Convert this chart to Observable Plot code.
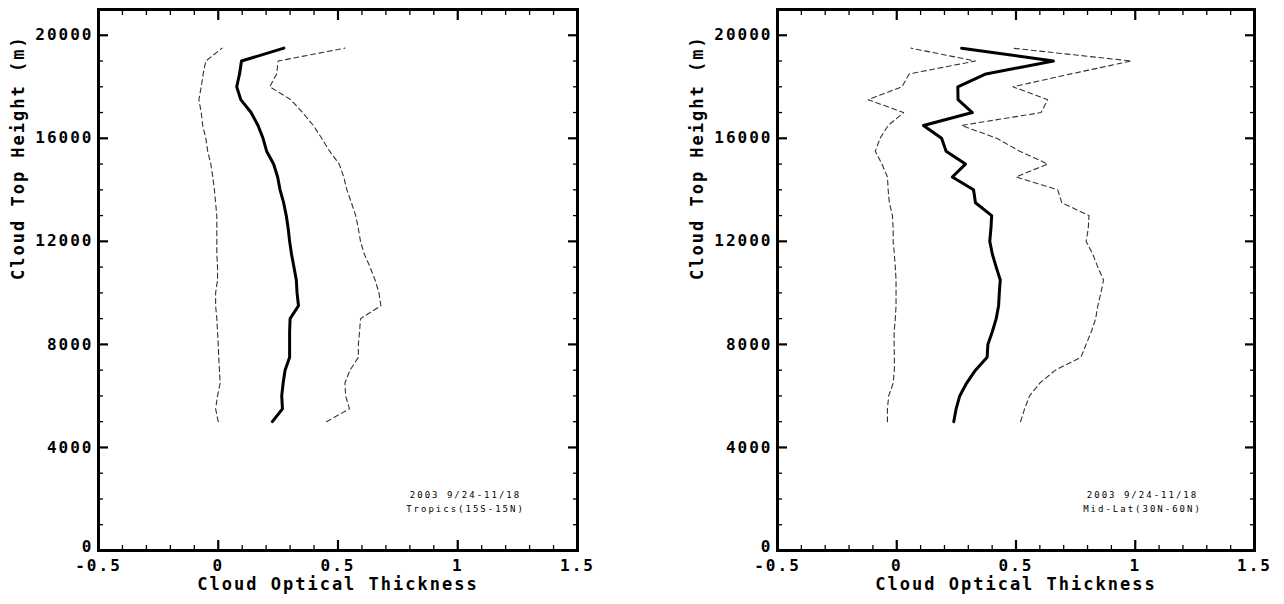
<!DOCTYPE html>
<html><head><meta charset="utf-8">
<script src="https://cdn.jsdelivr.net/npm/d3@7"></script>
<script src="https://cdn.jsdelivr.net/npm/@observablehq/plot@0.6"></script>
<style>
body{margin:0;background:#fff;width:1284px;height:604px;overflow:hidden;position:relative}
#p1{position:absolute;left:0;top:0}
#p2{position:absolute;left:680px;top:0}
</style></head><body><div id="p1"></div><div id="p2"></div>
<script>
// Cloud top heights (m)
const heights = [5000,5500,6000,6500,7000,7500,8000,8500,9000,9500,10000,10500,11000,11500,12000,12500,13000,13500,14000,14500,15000,15500,16000,16500,17000,17500,18000,18500,19000,19500];

// Tropics (15S-15N)
const tropMean = [0.226,0.268,0.265,0.271,0.279,0.298,0.298,0.298,0.300,0.335,0.329,0.326,0.316,0.306,0.298,0.292,0.284,0.273,0.258,0.248,0.231,0.202,0.187,0.166,0.137,0.094,0.077,0.089,0.097,0.274];
const tropLow  = [0.000,-0.011,-0.003,0.008,0.005,0.002,0.000,-0.003,-0.006,-0.011,-0.011,-0.003,-0.003,-0.006,-0.006,-0.006,-0.006,-0.011,-0.016,-0.023,-0.031,-0.044,-0.052,-0.065,-0.071,-0.081,-0.071,-0.063,-0.052,0.016];
const tropHigh = [0.452,0.548,0.532,0.529,0.550,0.585,0.585,0.590,0.594,0.679,0.671,0.655,0.634,0.610,0.594,0.585,0.574,0.556,0.537,0.524,0.505,0.465,0.432,0.397,0.352,0.303,0.215,0.244,0.250,0.529];

// Mid-Lat (30N-60N)
const midMean = [0.239,0.249,0.264,0.293,0.330,0.379,0.382,0.401,0.417,0.427,0.430,0.434,0.417,0.401,0.390,0.395,0.398,0.330,0.322,0.233,0.288,0.207,0.188,0.112,0.317,0.257,0.256,0.374,0.657,0.272];
const midLow  = [-0.039,-0.039,-0.034,-0.015,-0.010,-0.010,-0.011,-0.011,-0.006,-0.003,-0.003,-0.003,-0.006,-0.010,-0.015,-0.015,-0.018,-0.031,-0.036,-0.039,-0.062,-0.090,-0.070,-0.036,0.029,-0.120,0.022,0.052,0.330,0.060];
const midHigh = [0.519,0.536,0.557,0.600,0.665,0.772,0.794,0.816,0.834,0.843,0.856,0.867,0.843,0.822,0.794,0.803,0.806,0.692,0.675,0.500,0.633,0.515,0.420,0.271,0.605,0.633,0.487,0.730,0.984,0.485];

// Axes
const xMajor = [-0.5, 0, 0.5, 1, 1.5];
const xMajorLabels = ["-0.5", "0", "0.5", "1", "1.5"];
const xMinor = [-0.4,-0.3,-0.2,-0.1,0.1,0.2,0.3,0.4,0.6,0.7,0.8,0.9,1.1,1.2,1.3,1.4];
const yMajor = [0, 4000, 8000, 12000, 16000, 20000];
const yMinor = [1000,2000,3000,5000,6000,7000,9000,10000,11000,13000,14000,15000,17000,18000,19000];
const xTitle = "Cloud Optical Thickness";
const yTitle = "Cloud Top Height (m)";
const period = "2003 9/24-11/18";
const regions = ["Tropics(15S-15N)", "Mid-Lat(30N-60N)"];

const FONT = "'DejaVu Sans Mono', monospace";

function panel(mean, low, high, region, w, ml, mr) {
  const rows = (arr) => heights.map((h, i) => ({h, v: arr[i]}));
  const tickCommon = {label: null, text: null};
  const svg = Plot.plot({
    width: w,
    height: 604,
    marginLeft: ml,
    marginRight: mr,
    marginTop: 9,
    marginBottom: 54,
    style: {fontFamily: FONT, letterSpacing: "2px", background: "#fff", color: "#000"},
    x: {domain: [-0.5, 1.5]},
    y: {domain: [0, 21000]},
    marks: [
      // tick marks (inward, all four sides)
      Plot.axisX({...tickCommon, ticks: xMajor, anchor: "bottom", tickSize: -10, strokeWidth: 2.2}),
      Plot.axisX({...tickCommon, ticks: xMajor, anchor: "top", tickSize: -10, strokeWidth: 2.2}),
      Plot.axisX({...tickCommon, ticks: xMinor, anchor: "bottom", tickSize: -5, strokeWidth: 1.3}),
      Plot.axisX({...tickCommon, ticks: xMinor, anchor: "top", tickSize: -5, strokeWidth: 1.3}),
      Plot.axisY({...tickCommon, ticks: yMajor, anchor: "left", tickSize: -10, strokeWidth: 2.2}),
      Plot.axisY({...tickCommon, ticks: yMajor, anchor: "right", tickSize: -10, strokeWidth: 2.2}),
      Plot.axisY({...tickCommon, ticks: yMinor, anchor: "left", tickSize: -5, strokeWidth: 1.3}),
      Plot.axisY({...tickCommon, ticks: yMinor, anchor: "right", tickSize: -5, strokeWidth: 1.3}),
      // tick labels
      Plot.axisX({ticks: xMajor, anchor: "bottom", tickSize: 0, tickPadding: 9, label: null,
        tickFormat: (d) => xMajorLabels[xMajor.indexOf(d)], fontSize: 16, fontWeight: "bold"}),
      Plot.axisY({ticks: yMajor, anchor: "left", tickSize: 0, tickPadding: 5, label: null,
        tickFormat: (d) => String(d), fontSize: 16, fontWeight: "bold"}),
      // data
      Plot.line(rows(low), {x: "v", y: "h", stroke: "#333", strokeWidth: 1.1, strokeDasharray: "5,3.5"}),
      Plot.line(rows(high), {x: "v", y: "h", stroke: "#333", strokeWidth: 1.1, strokeDasharray: "5,3.5"}),
      Plot.line(rows(mean), {x: "v", y: "h", stroke: "#000", strokeWidth: 3}),
      // frame
      Plot.frame({stroke: "#000", strokeWidth: 3}),
      // titles
      Plot.text([xTitle], {text: (d) => d, frameAnchor: "bottom", dy: 34, fontSize: 17, fontWeight: "bold", lineAnchor: "middle"}),
      Plot.text([yTitle], {text: (d) => d, frameAnchor: "left", dx: -80, rotate: -90, fontSize: 17, fontWeight: "bold", lineAnchor: "middle"}),
      // annotation
      Plot.text([period + "\n" + region], {text: (d) => d, frameAnchor: "bottom-right", dx: -112, dy: -50,
        fontSize: 9, lineHeight: 1.6, lineAnchor: "middle", textAnchor: "middle"})
    ]
  });
  const s = d3.select(svg);
  s.selectAll('g[aria-label="x-axis tick label"], g[aria-label="y-axis tick label"]')
    .attr("font-size", 16).attr("font-weight", "bold");
  s.selectAll('g[aria-label="x-axis tick label"] text, g[aria-label="y-axis tick label"] text')
    .attr("font-size", 16).attr("font-weight", "bold");
  // nudge the y "0" label up slightly so it sits above the "-0.5" label
  s.selectAll('g[aria-label="y-axis tick label"] text')
    .filter(function() { return this.textContent === "0"; })
    .attr("dy", "-0.2em");
  return svg;
}

document.getElementById("p1").append(panel(tropMean, tropLow, tropHigh, regions[0], 600, 98, 23));
document.getElementById("p2").append(panel(midMean, midLow, midHigh, regions[1], 604, 97, 30));
</script>
</body></html>
